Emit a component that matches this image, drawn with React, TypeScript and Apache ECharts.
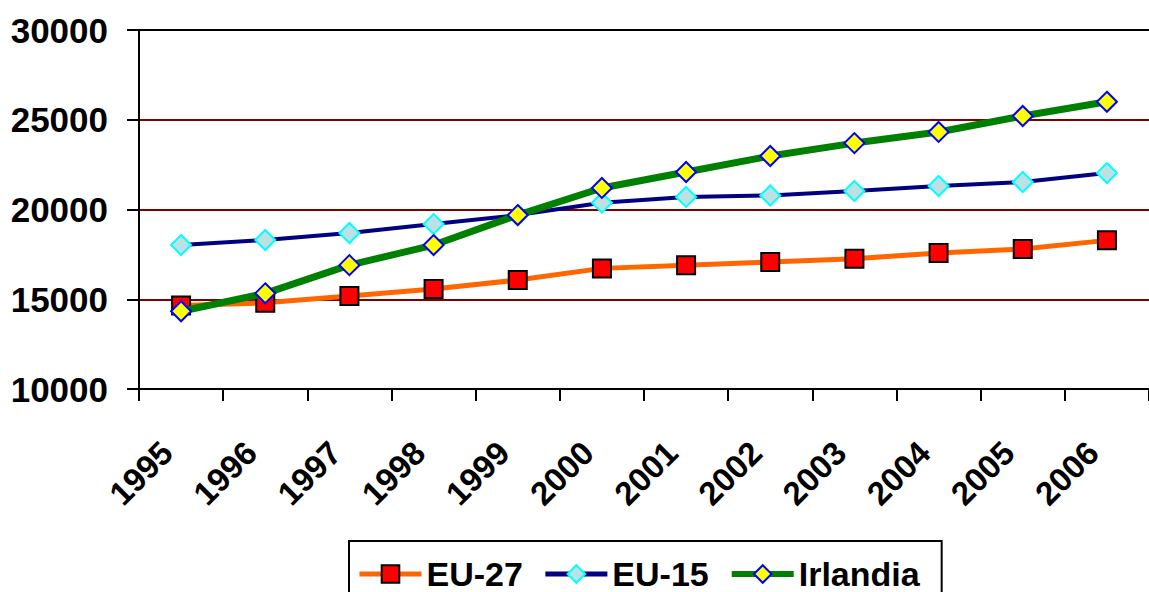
import React, { useEffect, useRef } from "react";
import * as echarts from "echarts";

const years = ["1995","1996","1997","1998","1999","2000","2001","2002","2003","2004","2005","2006"];
const eu27 = [14650, 14800, 15180, 15570, 16070, 16720, 16900, 17080, 17260, 17580, 17800, 18280];
const eu15 = [18020, 18300, 18690, 19190, 19690, 20380, 20700, 20780, 21030, 21310, 21530, 22030];
const irlandia = [14330, 15330, 16900, 18020, 19690, 21200, 22090, 22980, 23700, 24320, 25210, 26000];

export default function App() {
  const ref = useRef<HTMLDivElement>(null);
  useEffect(() => {
    const chart = echarts.init(ref.current!, null, { renderer: "svg" });
    const font = "Liberation Sans";
    chart.setOption({
      animation: false,
      backgroundColor: "#fff",
      grid: { left: 139, top: 30, right: -11, bottom: 203, containLabel: false },
      xAxis: {
        type: "category",
        data: years,
        boundaryGap: true,
        axisLine: { lineStyle: { color: "#000", width: 2 } },
        axisTick: { show: true, length: 12, lineStyle: { color: "#000", width: 2 } },
        axisLabel: { rotate: 45, margin: 44, color: "#000", fontSize: 33, fontWeight: "bold", fontFamily: font, padding: [0, 20, 0, 0] },
      },
      yAxis: {
        type: "value",
        min: 10000,
        max: 30000,
        interval: 5000,
        axisLine: { show: true, lineStyle: { color: "#000", width: 2 } },
        axisTick: { show: true, length: 12, lineStyle: { color: "#000", width: 2 } },
        axisLabel: {
          margin: 31,
          color: "#000",
          fontSize: 35,
          fontWeight: "bold",
          fontFamily: font,
          formatter: (v: number) => String(v),
        },
        splitLine: { show: true, lineStyle: { color: ["#7f0000", "#7f0000", "#7f0000", "#7f0000", "#000"], width: 2 } },
      },
      legend: {
        top: 541,
        left: 349,
        padding: [16, 22, 30, 8],
        borderColor: "#000",
        borderWidth: 2,
        itemWidth: 62,
        itemHeight: 22,
        itemGap: 20,
        textStyle: { color: "#000", fontSize: 34, fontWeight: "bold", fontFamily: font },
        data: [
          { name: "EU-27", lineStyle: { width: 5 } },
          { name: "EU-15", lineStyle: { width: 5 } },
          { name: "Irlandia", lineStyle: { width: 6 } },
        ],
      },
      series: [
        {
          name: "EU-27",
          type: "line",
          data: eu27,
          symbol: "rect",
          symbolSize: 18,
          lineStyle: { color: "#ff6600", width: 5 },
          itemStyle: { color: "#ff0000", borderColor: "#000", borderWidth: 2 },
          z: 2,
        },
        {
          name: "EU-15",
          type: "line",
          data: eu15,
          symbol: "diamond",
          symbolSize: 20,
          lineStyle: { color: "#000080", width: 4 },
          itemStyle: { color: "#bde0e3", borderColor: "#00ffff", borderWidth: 2 },
          z: 3,
        },
        {
          name: "Irlandia",
          type: "line",
          data: irlandia,
          symbol: "diamond",
          symbolSize: 20,
          lineStyle: { color: "#008000", width: 7 },
          itemStyle: { color: "#ffff00", borderColor: "#0000ff", borderWidth: 2 },
          z: 4,
        },
      ],
    });
    return () => chart.dispose();
  }, []);
  return <div ref={ref} style={{ position: "absolute", left: 0, top: 0, width: 1149, height: 592 }} />;
}
